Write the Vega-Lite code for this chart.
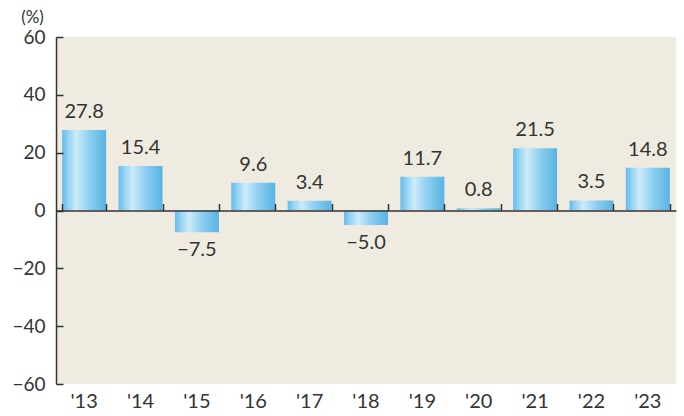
{
  "$schema": "https://vega.github.io/schema/vega-lite/v6.json",
  "width": 620,
  "height": 347,
  "autosize": "none",
  "padding": {"left": 56, "top": 37, "right": 8, "bottom": 32},
  "background": "white",
  "config": {
    "view": {"fill": "#efebe1", "stroke": null},
    "font": "Lato"
  },
  "data": {
    "values": [
      {"year": "'13", "value": 27.8},
      {"year": "'14", "value": 15.4},
      {"year": "'15", "value": -7.5},
      {"year": "'16", "value": 9.6},
      {"year": "'17", "value": 3.4},
      {"year": "'18", "value": -5.0},
      {"year": "'19", "value": 11.7},
      {"year": "'20", "value": 0.8},
      {"year": "'21", "value": 21.5},
      {"year": "'22", "value": 3.5},
      {"year": "'23", "value": 14.8}
    ]
  },
  "layer": [
    {
      "mark": {
        "type": "bar",
        "color": {
          "gradient": "linear",
          "x1": 0, "x2": 1, "y1": 0, "y2": 0,
          "stops": [
            {"offset": 0, "color": "#62bcea"},
            {"offset": 0.15, "color": "#9ad5f3"},
            {"offset": 0.32, "color": "#cdebfa"},
            {"offset": 0.6, "color": "#8fd0f0"},
            {"offset": 1, "color": "#58b3e4"}
          ]
        }
      },
      "encoding": {
        "x": {
          "field": "year", "type": "ordinal", "sort": null,
          "scale": {"paddingInner": 0.22, "paddingOuter": 0.11},
          "axis": {
            "title": null, "domain": false, "ticks": false,
            "labelAngle": 0, "labelFontSize": 20, "labelColor": "#333333",
            "labelPadding": 7
          }
        },
        "y": {
          "field": "value", "type": "quantitative",
          "scale": {"domain": [-60, 60], "nice": false},
          "axis": {
            "values": [-60, -40, -20, 0, 20, 40, 60],
            "grid": false, "zindex": 1,
            "domainColor": "#333333", "domainWidth": 1.5,
            "ticks": false,
            "labelFontSize": 19, "labelColor": "#333333", "labelPadding": 11,
            "title": "(%)", "titleAngle": 0, "titleX": -24, "titleY": -20,
            "titleAlign": "center", "titleBaseline": "middle",
            "titleFontSize": 17, "titleFontWeight": "normal", "titleColor": "#333333"
          }
        }
      }
    },
    {
      "transform": [{"filter": "datum.value >= 0"}],
      "mark": {"type": "text", "baseline": "bottom", "dy": -8, "fontSize": 20, "color": "#333333"},
      "encoding": {
        "x": {
          "field": "year", "type": "ordinal", "sort": null,
          "axis": {
            "title": null, "labels": false, "orient": "top", "offset": -173.5, "zindex": 1,
            "domainColor": "#333333", "domainWidth": 1.5,
            "tickColor": "#333333", "tickWidth": 1.5, "tickSize": 7,
            "tickBand": "extent"
          }
        },
        "y": {
          "field": "value", "type": "quantitative",
          "axis": {
            "orient": "right", "offset": -620, "zindex": 1,
            "labels": false, "title": null, "grid": false, "domain": false,
            "values": [-60, -40, -20, 0, 20, 40, 60],
            "ticks": true, "tickColor": "#333333", "tickWidth": 1.5, "tickSize": 7
          }
        },
        "text": {"field": "value", "type": "quantitative", "format": ".1f"}
      }
    },
    {
      "transform": [{"filter": "datum.value < 0"}],
      "mark": {"type": "text", "baseline": "top", "dy": 8, "fontSize": 20, "color": "#333333"},
      "encoding": {
        "x": {"field": "year", "type": "ordinal", "sort": null, "axis": null},
        "y": {"field": "value", "type": "quantitative", "axis": null},
        "text": {"field": "value", "type": "quantitative", "format": ".1f"}
      }
    }
  ],
  "resolve": {"axis": {"x": "independent", "y": "independent"}}
}
